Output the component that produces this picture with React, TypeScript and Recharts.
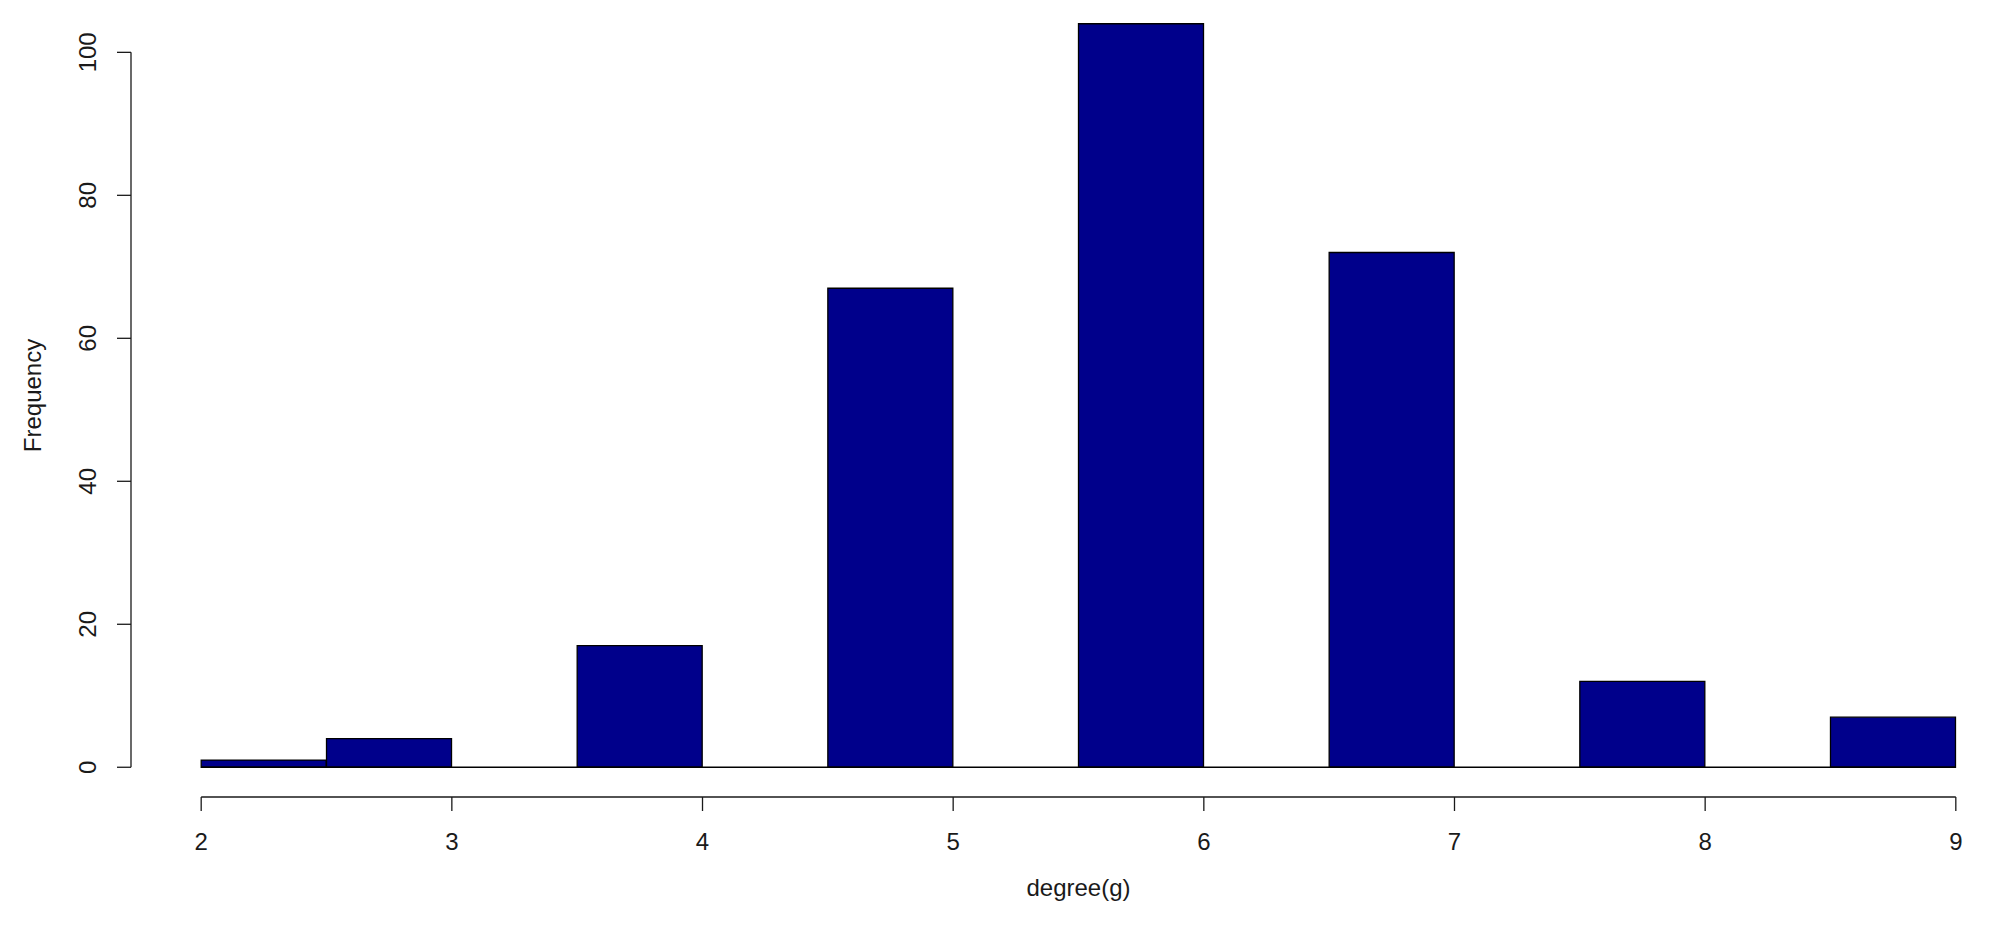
import { BarChart, Bar, XAxis, YAxis, ReferenceLine, Label } from 'recharts';

// histogram of degree(g), bins of width 0.5
const binMids = [2.25, 2.75, 3.25, 3.75, 4.25, 4.75, 5.25, 5.75, 6.25, 6.75, 7.25, 7.75, 8.25, 8.75];
const frequencies = [1, 4, 0, 17, 0, 67, 0, 104, 0, 72, 0, 12, 0, 7];
const xTicks = [2, 3, 4, 5, 6, 7, 8, 9];
const yTicks = [0, 20, 40, 60, 80, 100];

// R pads the axis range by 4%
const xDomain = [1.72, 9.28];
const yDomain = [-4.16, 108.16];

const data = binMids.map((mid, i) => ({ mid, count: frequencies[i] }));

const FONT = '"Liberation Sans", Arial, sans-serif';
const INK = '#1a1a1a';
const FS = 24;

function XTick({ x, y, payload }: any) {
  return (
    <text x={x} y={y + 31} dy="0.35em" textAnchor="middle" fontSize={FS} fontFamily={FONT} fill={INK}>
      {payload.value}
    </text>
  );
}

function YTick({ x, y, payload }: any) {
  const cx = x - 29;
  return (
    <text
      x={cx}
      y={y}
      dy="0.35em"
      textAnchor="middle"
      transform={`rotate(-90, ${cx}, ${y})`}
      fontSize={FS}
      fontFamily={FONT}
      fill={INK}
    >
      {payload.value}
    </text>
  );
}

export default function App() {
  return (
    <div
      style={{
        position: 'absolute',
        left: 0,
        top: 0,
        width: 1990,
        height: 942,
        overflow: 'hidden',
        background: '#fff',
      }}
    >
      <div style={{ position: 'absolute', left: 0, top: -14 }}>
        <BarChart
          width={2060}
          height={956}
          data={data}
          barCategoryGap={0}
          margin={{ top: 8, right: 34, bottom: 0, left: 0 }}
        >
          <XAxis
            xAxisId="x"
            dataKey="mid"
            type="number"
            domain={xDomain}
            allowDataOverflow
            ticks={xTicks}
            interval={0}
            height={145}
            axisLine={false}
            tickSize={14}
            tickMargin={0}
            tickLine={{ stroke: INK, strokeWidth: 1.3 }}
            tick={XTick}
          >
            <Label
              content={({ viewBox }: any) => (
                <text
                  x={viewBox.x + viewBox.width / 2}
                  y={902}
                  dy="0.35em"
                  textAnchor="middle"
                  fontSize={FS}
                  fontFamily={FONT}
                  fill={INK}
                >
                  degree(g)
                </text>
              )}
            />
          </XAxis>
          <YAxis
            yAxisId="y"
            type="number"
            domain={yDomain}
            allowDataOverflow
            ticks={yTicks}
            interval={0}
            width={131}
            axisLine={false}
            tickSize={14}
            tickMargin={0}
            tickLine={{ stroke: INK, strokeWidth: 1.3 }}
            tick={YTick}
          >
            <Label
              content={({ viewBox }: any) => {
                const cy = viewBox.y + viewBox.height / 2;
                return (
                  <text
                    x={33}
                    y={cy}
                    dy="0.35em"
                    textAnchor="middle"
                    transform={`rotate(-90, 33, ${cy})`}
                    fontSize={FS}
                    fontFamily={FONT}
                    fill={INK}
                  >
                    Frequency
                  </text>
                );
              }}
            />
          </YAxis>
          <Bar
            xAxisId="x"
            yAxisId="y"
            dataKey="count"
            fill="#00008B"
            stroke="#000"
            strokeWidth={1.3}
            isAnimationActive={false}
          />
          {/* zero-height bins show as the baseline */}
          <ReferenceLine
            xAxisId="x"
            yAxisId="y"
            segment={[{ x: 2, y: 0 }, { x: 9, y: 0 }]}
            stroke="#000"
            strokeWidth={1.3}
          />
          {/* R-style axis lines that only span the tick range */}
          <ReferenceLine
            xAxisId="x"
            yAxisId="y"
            segment={[{ x: xDomain[0], y: 0 }, { x: xDomain[0], y: 100 }]}
            stroke={INK}
            strokeWidth={1.3}
          />
          <ReferenceLine
            xAxisId="x"
            yAxisId="y"
            segment={[{ x: 2, y: yDomain[0] }, { x: 9, y: yDomain[0] }]}
            stroke={INK}
            strokeWidth={1.3}
          />
        </BarChart>
      </div>
    </div>
  );
}
